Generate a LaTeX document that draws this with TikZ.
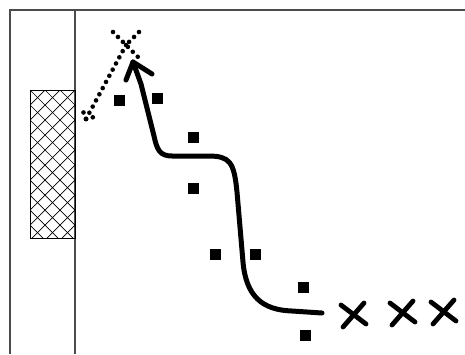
\documentclass[tikz,border=0pt]{standalone}
\begin{document}
\begin{tikzpicture}[x=1pt,y=-1pt,
  frameline/.style={draw=black!70,line width=1.6pt},
  sq/.style={fill=black,draw=none},
  dotline/.style={line width=4.6pt,line cap=round,dash pattern=on 0pt off 7pt},
  thickpath/.style={line width=5pt,line cap=round,line join=round},
  cross/.style={line width=4.8pt,line cap=round}]
\useasboundingbox (0,0) rectangle (465,354);
\fill[white] (0,0) rectangle (465,354);
% frame
\draw[frameline] (10,354) -- (10,10) -- (465,10);
\draw[frameline] (75,10) -- (75,354);
% hatched block
\begin{scope}
  \clip (30,90) rectangle (75,238);
  \foreach \i in {-12,...,6} {
    \draw[line width=0.7pt] (30+\i*15,90) -- ++(160,160);
    \draw[line width=0.7pt] (75-\i*15,90) -- ++(-160,160);
  }
\end{scope}
\draw[line width=0.9pt] (30,90) rectangle (75,238);
% squares
\foreach \p in {(119,100),(157,98),(193,137),(193,188),(215,254),(255,254),(303,287),(305,335)}
  \fill[sq] \p ++(-5.5,-5.5) rectangle ++(11,11);
% dotted X and dotted arrow
\coordinate (xc) at (126,45);
\draw[dotline] (113,32) -- (139,58);
\draw[dotline] (139,32) -- (xc);
\coordinate (dtip) at (86,119);
\draw[dotline] (xc) -- (dtip);
\draw[dotline] (dtip) -- (81,106);
\draw[dotline] (dtip) -- (98,116);
% thick path with arrow
\coordinate (start) at (322,313);
\coordinate (tip) at (133,62);
\draw[thickpath] (start) -- (292,311) .. controls (262,310) and (246,296) .. (243,262)
  -- (237,192) .. controls (234,162) and (230,156) .. (208,156) -- (172,156)
  .. controls (160,156) and (157,150) .. (154,136) -- (141,84) -- (tip);
\draw[thickpath] (126,80) -- (tip) -- (152,74);
% crosses
\foreach \c in {(353,315),(402,313),(443,312)} {
  \draw[cross] \c ++(-12,-10) -- ++(25,19);
  \draw[cross] \c ++(11,-12) -- ++(-21,24);
}
\end{tikzpicture}
\end{document}
